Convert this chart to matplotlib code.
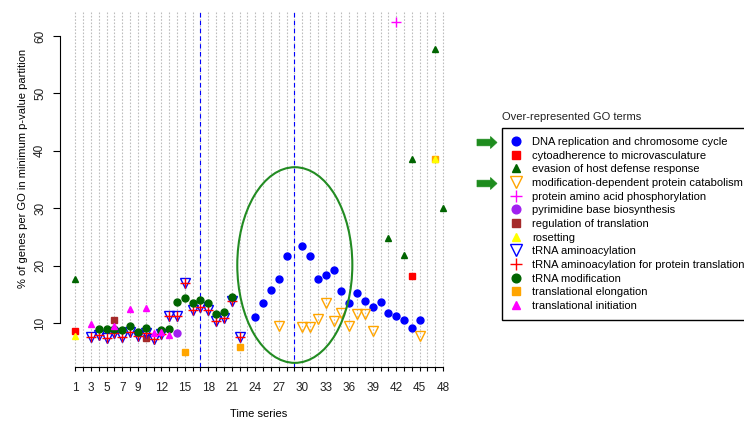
import matplotlib
matplotlib.use("Agg")
import matplotlib.pyplot as plt
from matplotlib.patches import Ellipse, Polygon
from matplotlib.lines import Line2D

plt.rcParams["font.family"] = ["Liberation Sans", "DejaVu Sans"]

# ---- data: % of genes per GO term in the minimum p-value partition ----
dna_x = [24, 25, 26, 27, 28, 30, 31, 32, 33, 34, 35, 36, 37, 38, 39, 40, 41, 42, 43, 44, 45]
dna_y = [11.0, 13.4, 15.7, 17.7, 21.7, 23.4, 21.7, 17.6, 18.4, 19.2, 15.6, 13.4, 15.3, 13.8,
         12.8, 13.7, 11.7, 11.3, 10.5, 9.2, 10.5]

cyto_x = [1, 44]
cyto_y = [8.6, 18.2]

evasion_x = [1, 41, 43, 44, 47, 48]
evasion_y = [17.6, 24.8, 21.8, 38.6, 57.7, 30.0]

catab_x = [27, 30, 31, 32, 33, 34, 35, 36, 37, 38, 39, 45]
catab_y = [9.5, 9.3, 9.3, 10.7, 13.5, 10.4, 11.8, 9.4, 11.5, 11.5, 8.6, 7.8]

phos_x = [42]
phos_y = [62.4]

pyrim_x = [14]
pyrim_y = [8.2]

regtrans_x = [6, 10]
regtrans_y = [10.6, 7.3]

roset_x = [1, 47]
roset_y = [7.8, 38.5]

trna_x = [3, 4, 5, 6, 7, 8, 9, 10, 11, 12, 13, 14, 15, 16, 17, 18, 19, 20, 21, 22]
trna_y = [7.5, 7.9, 7.3, 8.3, 7.6, 8.4, 7.7, 8.2, 7.2, 8.0, 11.3, 11.3, 16.9, 12.3, 12.8,
          12.3, 10.3, 10.9, 13.8, 7.6]

trnaprot_x = trna_x
trnaprot_y = trna_y

trnamod_x = [4, 5, 6, 7, 8, 9, 10, 12, 13, 14, 15, 16, 17, 18, 19, 20, 21]
trnamod_y = [8.9, 8.9, 8.9, 8.7, 9.4, 8.5, 9.1, 8.8, 8.9, 13.7, 14.4, 13.4, 14.0, 13.4,
             11.6, 12.0, 14.6]

elong_x = [15, 22, 47]
elong_y = [5.0, 5.9, 38.5]

init_x = [3, 6, 8, 10, 11, 12, 13]
init_y = [9.8, 9.5, 12.4, 12.6, 8.2, 8.4, 7.9]

time_points = list(range(1, 49))
labelled_ticks = [1, 3, 5, 7, 9, 12, 15, 18, 21, 24, 27, 30, 33, 36, 39, 42, 45, 48]
y_ticks = [10, 20, 30, 40, 50, 60]
marked_times = [17, 29]

W, H = 744, 421
fig = plt.figure(figsize=(W / 100, H / 100), dpi=100)
ax = fig.add_axes([60 / W, 1 - 367 / H, (458 - 60) / W, (367 - 12) / H])
ax.set_xlim(-0.95, 49.9)
ax.set_ylim(2.33, 64.2)

# dotted guide at every time point
for t in time_points:
    ax.axvline(t, color="#bdbdbd", ls=(0, (1.5, 1.5)), lw=0.8, zorder=0)
for t in marked_times:
    ax.axvline(t, color="#0000FF", ls=(0, (4, 3)), lw=0.8, zorder=1)

# series: (label, x, y, style, drawing order)
series = [
    ("DNA replication and chromosome cycle", dna_x, dna_y,
     dict(marker="o", color="#0000FF", ms=5), 3),
    ("cytoadherence to microvasculature", cyto_x, cyto_y,
     dict(marker="s", color="#FF0000", ms=4.6), 4),
    ("evasion of host defense response", evasion_x, evasion_y,
     dict(marker="^", color="#006400", ms=5), 5),
    ("modification-dependent protein catabolism", catab_x, catab_y,
     dict(marker="v", color="#FFA500", mfc="none", ms=7, mew=1), 6),
    ("protein amino acid phosphorylation", phos_x, phos_y,
     dict(marker="+", color="#FF00FF", ms=6.5, mew=1), 7),
    ("pyrimidine base biosynthesis", pyrim_x, pyrim_y,
     dict(marker="o", color="#A020F0", ms=5), 8),
    ("regulation of translation", regtrans_x, regtrans_y,
     dict(marker="s", color="#A52A2A", ms=4.6), 9),
    ("rosetting", roset_x, roset_y,
     dict(marker="^", color="#FFFF00", ms=5), 16),
    ("tRNA aminoacylation", trna_x, trna_y,
     dict(marker="v", color="#0000FF", mfc="none", ms=7, mew=1), 10),
    ("tRNA aminoacylation for protein translation", trnaprot_x, trnaprot_y,
     dict(marker="+", color="#FF0000", ms=6.5, mew=1), 11),
    ("tRNA modification", trnamod_x, trnamod_y,
     dict(marker="o", color="#006400", ms=5), 12),
    ("translational elongation", elong_x, elong_y,
     dict(marker="s", color="#FFA500", ms=4.6), 13),
    ("translational initiation", init_x, init_y,
     dict(marker="^", color="#FF00FF", ms=5), 14),
]

handles, labels = [], []
for lab, xs, ys, st, z in series:
    ax.plot(xs, ys, ls="none", zorder=z, clip_on=False, **st)
    hst = dict(st)
    hst["ms"] = st["ms"] * 1.25
    handles.append(Line2D([], [], ls="none", **hst))
    labels.append(lab)

ax.add_patch(Ellipse((29.05, 20.1), 14.7, 34.1, fill=False, ec="#228B22", lw=1.5, zorder=20))

# axes in base-graphics style
for s in ("top", "right"):
    ax.spines[s].set_visible(False)
ax.spines["left"].set_bounds(10, 60)
ax.spines["bottom"].set_bounds(1, 48)
for s in ("left", "bottom"):
    ax.spines[s].set_linewidth(0.8)

ax.set_xticks(time_points)
ax.set_xticklabels([str(t) if t in labelled_ticks else "" for t in time_points])
ax.set_yticks(y_ticks)
ax.set_yticklabels([str(v) for v in y_ticks], rotation=90, va="center")
ax.tick_params(axis="x", length=3, width=0.8, pad=8, labelsize=8.5, labelcolor="#222222")
ax.tick_params(axis="y", length=5, width=0.8, pad=5, labelsize=8.5, labelcolor="#222222")

fig.text(259 / W, 1 - 414 / H, "Time series", ha="center", va="center", fontsize=8)
fig.text(23 / W, 1 - 168 / H, "% of genes per GO in minimum p-value partition",
         ha="center", va="center", rotation=90, fontsize=8)

# legend
fig.text(502 / W, 1 - 117 / H, "Over-represented GO terms", ha="left", va="center",
         fontsize=8, color="#222222")
leg = fig.legend(handles, labels, loc="upper left", bbox_to_anchor=(502 / W, 1 - 128 / H),
                 frameon=True, fancybox=False, edgecolor="black", framealpha=1,
                 borderpad=0.8, handlelength=1.0, handletextpad=0.9, labelspacing=0.33,
                 fontsize=8, borderaxespad=0)
leg.get_frame().set_linewidth(1.0)


def px(x, y):
    return (x / W, 1 - y / H)


# arrows pointing at highlighted terms
for cy in (142.5, 183.5):
    pts = [(477, cy - 3.3), (490.5, cy - 3.3), (490.5, cy - 6), (497, cy),
           (490.5, cy + 6), (490.5, cy + 3.3), (477, cy + 3.3)]
    fig.add_artist(Polygon([px(x, y) for x, y in pts], closed=True,
                           transform=fig.transFigure, fc="#1E8C1E", ec="#1E8C1E", lw=0.5))

fig.savefig("out.png", dpi=100)
